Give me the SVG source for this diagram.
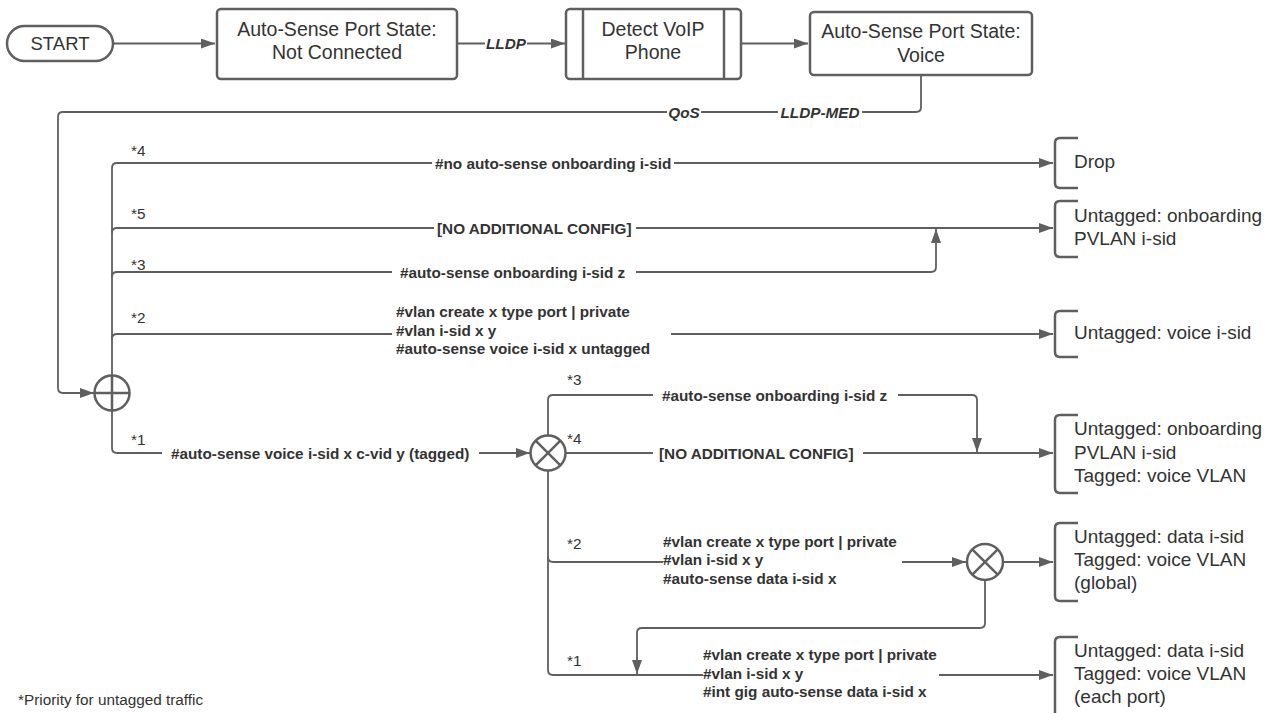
<svg xmlns="http://www.w3.org/2000/svg" width="1278" height="713" viewBox="0 0 1278 713">
<style>
.shape{fill:#fff;stroke:#5f5f5f;stroke-width:2.5}
.br{fill:none;stroke:#5f5f5f;stroke-width:2.5}
.con{fill:none;stroke:#5f5f5f;stroke-width:1.8}
.t{font-family:"Liberation Sans",Arial,sans-serif;fill:#333}
.big{font-size:19.5px;text-anchor:middle}
.rt{font-size:19px}
.lb{font-size:15.3px;font-weight:bold}
.li{font-size:15.3px;font-weight:bold;font-style:italic;text-anchor:middle}
.sm{font-size:15.3px}
</style>
<defs>
<marker id="ah" markerWidth="14" markerHeight="10" refX="14" refY="5" orient="auto" markerUnits="userSpaceOnUse">
<path d="M0,0 L14,5 L0,10 z" fill="#5f5f5f"/>
</marker>
</defs>
<rect width="1278" height="713" fill="#fff"/>

<g id="connectors">
<path class="con" d="M113,43.5 H215" marker-end="url(#ah)"/>
<path class="con" d="M457,43.5 H485 M527,43.5 H565" marker-end="url(#ah)"/>
<path class="con" d="M741,43.5 H808" marker-end="url(#ah)"/>
<path class="con" d="M921,75 V107 Q921,112 916,112 H862 M778,112 H701 M667,112 H63 Q58,112 58,117 V388 Q58,393 63,393 H94" marker-end="url(#ah)"/>
<!-- branches from plus -->
<path class="con" d="M112,375.5 V168 Q112,163 117,163 H432 M674,163 H1053" marker-end="url(#ah)"/>
<path class="con" d="M112,233 Q112,228 117,228 H434 M636,228 H1053" marker-end="url(#ah)"/>
<path class="con" d="M112,277 Q112,272 117,272 H392 M636,272 H931 Q936,272 936,267 V229" marker-end="url(#ah)"/>
<path class="con" d="M112,339 Q112,334 117,334 H392 M671,334 H1053" marker-end="url(#ah)"/>
<path class="con" d="M112,410.5 V448 Q112,453 117,453 H162 M479,453 H530" marker-end="url(#ah)"/>
<!-- branches from cross -->
<path class="con" d="M548,435.5 V400 Q548,395 553,395 H653 M898,395 H972 Q977,395 977,400 V452" marker-end="url(#ah)"/>
<path class="con" d="M565.5,453 H653 M863,453 H1053" marker-end="url(#ah)"/>
<path class="con" d="M548,470.5 V670 Q548,675 553,675 H703 M939,675 H1053" marker-end="url(#ah)"/>
<path class="con" d="M548,557 Q548,562 553,562 H663 M902,562 H966" marker-end="url(#ah)"/>
<path class="con" d="M1003,562 H1053" marker-end="url(#ah)"/>
<path class="con" d="M985,580 V623 Q985,628 980,628 H642 Q637,628 637,633 V674" marker-end="url(#ah)"/>
</g>

<g id="connector-labels">
<text class="t li" x="506" y="48.5">LLDP</text>
<text class="t li" x="684" y="117.5">QoS</text>
<text class="t li" x="820" y="117.5">LLDP-MED</text>
<text class="t lb" x="435" y="168.5">#no auto-sense onboarding i-sid</text>
<text class="t lb" x="437" y="233.5">[NO ADDITIONAL CONFIG]</text>
<text class="t lb" x="400" y="277.5">#auto-sense onboarding i-sid z</text>
<text class="t lb" x="396" y="317">#vlan create x type port | private</text>
<text class="t lb" x="396" y="335.5">#vlan i-sid x y</text>
<text class="t lb" x="396" y="354">#auto-sense voice i-sid x untagged</text>
<text class="t lb" x="171" y="458.5">#auto-sense voice i-sid x c-vid y (tagged)</text>
<text class="t lb" x="662" y="400.5">#auto-sense onboarding i-sid z</text>
<text class="t lb" x="659" y="458.5">[NO ADDITIONAL CONFIG]</text>
<text class="t lb" x="663" y="546.5">#vlan create x type port | private</text>
<text class="t lb" x="663" y="565">#vlan i-sid x y</text>
<text class="t lb" x="663" y="583.5">#auto-sense data i-sid x</text>
<text class="t lb" x="703" y="660">#vlan create x type port | private</text>
<text class="t lb" x="703" y="678.5">#vlan i-sid x y</text>
<text class="t lb" x="703" y="697">#int gig auto-sense data i-sid x</text>
<text class="t sm" x="131" y="156">*4</text>
<text class="t sm" x="131" y="218.5">*5</text>
<text class="t sm" x="131" y="270">*3</text>
<text class="t sm" x="131" y="323">*2</text>
<text class="t sm" x="131" y="445">*1</text>
<text class="t sm" x="567" y="385">*3</text>
<text class="t sm" x="567" y="444">*4</text>
<text class="t sm" x="567" y="549">*2</text>
<text class="t sm" x="567" y="666">*1</text>
</g>

<g id="start">
<rect class="shape" x="7" y="26" width="106" height="35" rx="17.5"/>
<text class="t big" x="60" y="49.5" style="font-size:18.5px">START</text>
</g>
<g id="state-not-connected">
<rect class="shape" x="217" y="9" width="240" height="70" rx="4"/>
<text class="t big" x="337" y="36">Auto-Sense Port State:</text>
<text class="t big" x="337" y="59">Not Connected</text>
</g>
<g id="detect-voip">
<rect class="shape" x="566" y="9" width="175" height="70" rx="4"/>
<line class="shape" x1="583" y1="9" x2="583" y2="79"/>
<line class="shape" x1="724" y1="9" x2="724" y2="79"/>
<text class="t big" x="653" y="35.5">Detect VoIP</text>
<text class="t big" x="653" y="59">Phone</text>
</g>
<g id="state-voice">
<rect class="shape" x="810" y="12" width="222" height="63" rx="4"/>
<text class="t big" x="921" y="38">Auto-Sense Port State:</text>
<text class="t big" x="921" y="62">Voice</text>
</g>

<g id="or-junction">
<circle class="shape" cx="112" cy="393" r="17.5"/>
<line class="shape" x1="112" y1="375.5" x2="112" y2="410.5"/>
<line class="shape" x1="94.5" y1="393" x2="129.5" y2="393"/>
</g>
<g id="and-junction-1">
<circle class="shape" cx="548" cy="453" r="17.5"/>
<line class="shape" x1="535.6" y1="440.6" x2="560.4" y2="465.4"/>
<line class="shape" x1="560.4" y1="440.6" x2="535.6" y2="465.4"/>
</g>
<g id="and-junction-2">
<circle class="shape" cx="985" cy="562" r="18"/>
<line class="shape" x1="972.3" y1="549.3" x2="997.7" y2="574.7"/>
<line class="shape" x1="997.7" y1="549.3" x2="972.3" y2="574.7"/>
</g>

<g id="result-drop">
<path class="br" d="M1078,138 H1060 Q1055,138 1055,143 V183 Q1055,188 1060,188 H1078"/>
<text class="t rt" x="1074" y="168">Drop</text>
</g>
<g id="result-onboarding">
<path class="br" d="M1078,201 H1060 Q1055,201 1055,206 V252 Q1055,257 1060,257 H1078"/>
<text class="t rt" x="1074" y="222">Untagged: onboarding</text>
<text class="t rt" x="1074" y="245">PVLAN i-sid</text>
</g>
<g id="result-voice">
<path class="br" d="M1078,311 H1060 Q1055,311 1055,316 V352 Q1055,357 1060,357 H1078"/>
<text class="t rt" x="1074" y="339">Untagged: voice i-sid</text>
</g>
<g id="result-onboarding-tagged">
<path class="br" d="M1078,415 H1060 Q1055,415 1055,420 V488 Q1055,493 1060,493 H1078"/>
<text class="t rt" x="1074" y="435">Untagged: onboarding</text>
<text class="t rt" x="1074" y="458.5">PVLAN i-sid</text>
<text class="t rt" x="1074" y="482">Tagged: voice VLAN</text>
</g>
<g id="result-data-global">
<path class="br" d="M1078,523 H1060 Q1055,523 1055,528 V596 Q1055,601 1060,601 H1078"/>
<text class="t rt" x="1074" y="543">Untagged: data i-sid</text>
<text class="t rt" x="1074" y="566">Tagged: voice VLAN</text>
<text class="t rt" x="1074" y="589">(global)</text>
</g>
<g id="result-data-port">
<path class="br" d="M1078,637 H1060 Q1055,637 1055,642 V720"/>
<text class="t rt" x="1074" y="657">Untagged: data i-sid</text>
<text class="t rt" x="1074" y="680">Tagged: voice VLAN</text>
<text class="t rt" x="1074" y="703">(each port)</text>
</g>

<g id="footnote">
<text class="t sm" x="18" y="705">*Priority for untagged traffic</text>
</g>
</svg>
